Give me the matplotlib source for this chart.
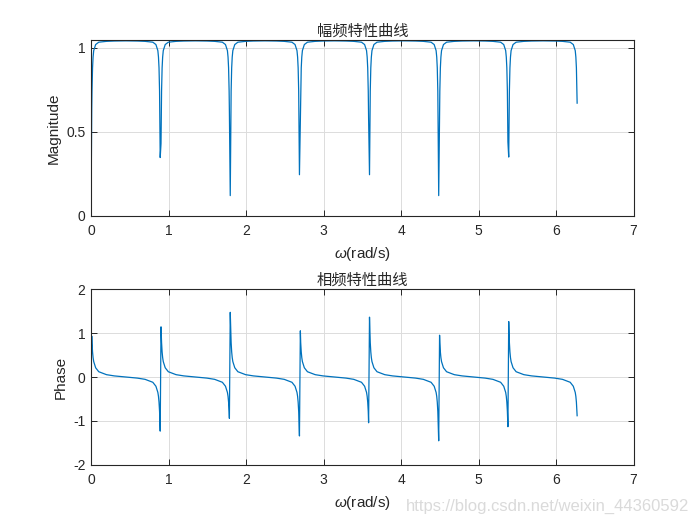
import matplotlib
matplotlib.use("Agg")
import matplotlib.pyplot as plt

# frequency samples (rad/s)
omega = [
    0.0, 0.0095, 0.013, 0.020, 0.027, 0.035, 0.060, 0.100, 0.200, 0.300, 0.4488,
    0.5976, 0.6976, 0.7976, 0.8376, 0.8626, 0.8706, 0.8776, 0.8846, 0.8929,
    0.9034, 0.9106, 0.9176, 0.9246, 0.9326, 0.9576, 0.9976, 1.0976, 1.1976, 1.3464,
    1.4952, 1.5952, 1.6952, 1.7352, 1.7602, 1.7682, 1.7752, 1.7822, 1.7857,
    1.7967, 1.8082, 1.8152, 1.8222, 1.8302, 1.8552, 1.8952, 1.9952, 2.0952, 2.2440,
    2.3928, 2.4928, 2.5928, 2.6328, 2.6578, 2.6658, 2.6728, 2.6798, 2.6896,
    2.7013, 2.7058, 2.7128, 2.7198, 2.7278, 2.7528, 2.7928, 2.8928, 2.9928, 3.1416,
    3.2904, 3.3904, 3.4904, 3.5304, 3.5554, 3.5634, 3.5704, 3.5774, 3.5819,
    3.5936, 3.6034, 3.6104, 3.6174, 3.6254, 3.6504, 3.6904, 3.7904, 3.8904, 4.0392,
    4.1880, 4.2880, 4.3880, 4.4280, 4.4530, 4.4610, 4.4680, 4.4750, 4.4865,
    4.4977, 4.5010, 4.5080, 4.5150, 4.5230, 4.5480, 4.5880, 4.6880, 4.7880, 4.9368,
    5.0856, 5.1856, 5.2856, 5.3256, 5.3506, 5.3586, 5.3656, 5.3726, 5.3796,
    5.3899, 5.3986, 5.4056, 5.4126, 5.4206, 5.4456, 5.4856, 5.5856, 5.6856, 5.8344,
    5.9832, 6.0832, 6.1832, 6.2232, 6.2482, 6.2562, 6.2632, 6.2702, 6.2727,
]

magnitude = [
    0.0, 0.63, 0.743, 0.88, 0.944, 0.982, 1.018, 1.032, 1.037, 1.039, 1.040,
    1.039, 1.037, 1.032, 1.018, 0.982, 0.944, 0.88, 0.743, 0.347,
    0.43, 0.743, 0.88, 0.944, 0.982, 1.018, 1.032, 1.037, 1.039, 1.040,
    1.039, 1.037, 1.032, 1.018, 0.982, 0.944, 0.88, 0.743, 0.62,
    0.121, 0.743, 0.88, 0.944, 0.982, 1.018, 1.032, 1.037, 1.039, 1.040,
    1.039, 1.037, 1.032, 1.018, 0.982, 0.944, 0.88, 0.743, 0.245,
    0.58, 0.743, 0.88, 0.944, 0.982, 1.018, 1.032, 1.037, 1.039, 1.040,
    1.039, 1.037, 1.032, 1.018, 0.982, 0.944, 0.88, 0.743, 0.58,
    0.245, 0.743, 0.88, 0.944, 0.982, 1.018, 1.032, 1.037, 1.039, 1.040,
    1.039, 1.037, 1.032, 1.018, 0.982, 0.944, 0.88, 0.743, 0.121,
    0.63, 0.743, 0.88, 0.944, 0.982, 1.018, 1.032, 1.037, 1.039, 1.040,
    1.039, 1.037, 1.032, 1.018, 0.982, 0.944, 0.88, 0.743, 0.44,
    0.35, 0.743, 0.88, 0.944, 0.982, 1.018, 1.032, 1.037, 1.039, 1.040,
    1.039, 1.037, 1.032, 1.018, 0.982, 0.944, 0.88, 0.743, 0.67,
]

phase = [
    0.0, 0.93, 0.78, 0.57, 0.44, 0.35, 0.21, 0.12, 0.053, 0.025, 0.0,
    -0.025, -0.053, -0.12, -0.21, -0.35, -0.44, -0.57, -0.78, -1.23,
    1.14, 0.78, 0.57, 0.44, 0.35, 0.21, 0.12, 0.053, 0.025, 0.0,
    -0.025, -0.053, -0.12, -0.21, -0.35, -0.44, -0.57, -0.78, -0.94,
    1.47, 0.78, 0.57, 0.44, 0.35, 0.21, 0.12, 0.053, 0.025, 0.0,
    -0.025, -0.053, -0.12, -0.21, -0.35, -0.44, -0.57, -0.78, -1.34,
    1.05, 0.78, 0.57, 0.44, 0.35, 0.21, 0.12, 0.053, 0.025, 0.0,
    -0.025, -0.053, -0.12, -0.21, -0.35, -0.44, -0.57, -0.78, -1.04,
    1.36, 0.78, 0.57, 0.44, 0.35, 0.21, 0.12, 0.053, 0.025, 0.0,
    -0.025, -0.053, -0.12, -0.21, -0.35, -0.44, -0.57, -0.78, -1.45,
    0.95, 0.78, 0.57, 0.44, 0.35, 0.21, 0.12, 0.053, 0.025, 0.0,
    -0.025, -0.053, -0.12, -0.21, -0.35, -0.44, -0.57, -0.78, -1.13,
    1.26, 0.78, 0.57, 0.44, 0.35, 0.21, 0.12, 0.053, 0.025, 0.0,
    -0.025, -0.053, -0.12, -0.21, -0.35, -0.44, -0.57, -0.78, -0.88,
]

titles = ["幅频特性曲线", "相频特性曲线"]
ylabels = ["Magnitude", "Phase"]

plt.rcParams['font.family'] = ['Liberation Sans', 'Noto Sans CJK SC', 'DejaVu Sans']
plt.rcParams['mathtext.fontset'] = 'custom'
plt.rcParams['mathtext.it'] = 'Liberation Sans:italic'
plt.rcParams['mathtext.rm'] = 'Liberation Sans'
plt.rcParams['axes.unicode_minus'] = False

fig = plt.figure(figsize=(7, 5.25), dpi=100)
ax1 = fig.add_axes([0.13, 0.5886, 0.775, 0.3352])
ax2 = fig.add_axes([0.13, 0.1143, 0.775, 0.3352])

line_color = '#0072BD'
edge = '#262626'

ax1.plot(omega, magnitude, color=line_color, linewidth=0.9)
ax1.set_xlim(0, 7)
ax1.set_ylim(0, 1.045)
ax1.set_yticks([0, 0.5, 1])
ax1.set_yticklabels(['0', '0.5', '1'])

ax2.plot(omega, phase, color=line_color, linewidth=0.9)
ax2.set_xlim(0, 7)
ax2.set_ylim(-2, 2)
ax2.set_yticks([-2, -1, 0, 1, 2])

for ax, t, yl in zip([ax1, ax2], titles, ylabels):
    ax.set_xticks(range(0, 8))
    ax.grid(True, color='#dcdcdc', linewidth=0.7)
    ax.set_axisbelow(True)
    ax.tick_params(direction='in', length=4, width=0.7, top=True, right=True,
                   labelsize=10, colors=edge)
    ax.tick_params(axis='x', pad=6)
    ax.tick_params(axis='y', pad=4)
    for s in ax.spines.values():
        s.set_color(edge)
        s.set_linewidth(0.8)
    ax.set_title(t, fontsize=11, family=['Noto Sans CJK SC'], color=edge, pad=3)
    ax.set_ylabel(yl, fontsize=11, color=edge, labelpad=4)
    ax.set_xlabel(r'$\omega$(rad/s)', fontsize=11, color=edge, labelpad=5)

fig.text(0.985, 0.035, 'https://blog.csdn.net/weixin_44360592', ha='right', va='center',
         fontsize=12, color='#dadada')

fig.savefig('out.png', dpi=100)
